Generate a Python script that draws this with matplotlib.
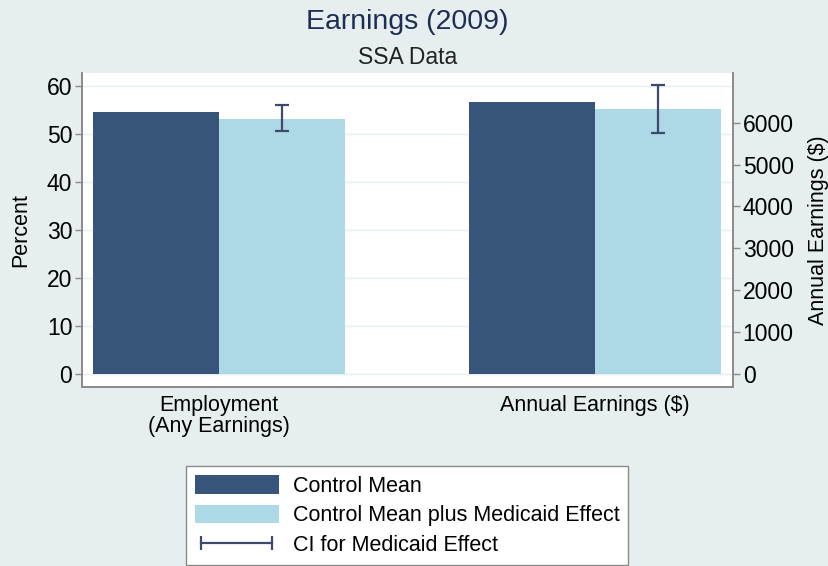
import matplotlib
matplotlib.use("Agg")
import matplotlib.pyplot as plt
from matplotlib.patches import Patch
from matplotlib.lines import Line2D

plt.rcParams['font.family'] = ['Liberation Sans', 'DejaVu Sans']

# Data
categories = ["Employment\n(Any Earnings)", "Annual Earnings ($)"]
control_mean = [54.7, 6500]
medicaid_mean = [53.1, 6320]
ci_low = [50.7, 5760]
ci_high = [56.1, 6900]

dark = '#37557A'
light = '#ADD8E6'
ci_color = '#3E4A6C'
bg = '#E6EEF0'
spine_col = '#8A8A8A'

fig = plt.figure(figsize=(8.29, 5.66), dpi=100, facecolor=bg)
ax = fig.add_axes([82 / 829, 1 - 387 / 566, (733 - 82) / 829, (387 - 73) / 566])
ax.set_facecolor('white')
ax2 = ax.twinx()

w = 0.335
x = [0, 1]

# employment on left axis (percent), earnings on right axis (dollars)
axes_for = [ax, ax2]
for i, a in enumerate(axes_for):
    a.bar(x[i] - w / 2, control_mean[i], width=w, color=dark, zorder=3)
    a.bar(x[i] + w / 2, medicaid_mean[i], width=w, color=light, zorder=3)
    mid = (ci_low[i] + ci_high[i]) / 2
    half = (ci_high[i] - ci_low[i]) / 2
    a.errorbar(x[i] + w / 2, mid, yerr=half, fmt='none', ecolor=ci_color,
               elinewidth=1.6, capsize=5, capthick=1.6, zorder=4)

ax.set_xlim(-0.364, 1.367)
ax.set_ylim(-2.8, 62.8)
ax2.set_ylim(-2.8 * 114.5, 62.8 * 114.5)

ax.set_yticks(range(0, 61, 10))
ax2.set_yticks(range(0, 6001, 1000))
ax.set_xticks(x)
ax.set_xticklabels(categories, fontsize=15.5, linespacing=0.95)
ax.tick_params(axis='x', length=0, pad=6)
ax.tick_params(axis='y', labelsize=16.5, length=5, width=1, color=spine_col, pad=2)
ax2.tick_params(axis='y', labelsize=16.5, length=5, width=1, color=spine_col, pad=2)

ax.yaxis.grid(True, color='#E8EFF1', lw=1)
ax.set_axisbelow(True)

for a in (ax, ax2):
    a.spines['top'].set_visible(False)
    for s in ('left', 'right', 'bottom'):
        a.spines[s].set_color(spine_col)
        a.spines[s].set_linewidth(1.2)

ax.set_ylabel("Percent", fontsize=15.5, labelpad=11)
ax2.set_ylabel("Annual Earnings ($)", fontsize=15.5, labelpad=10)

fig.text(407.5 / 829, 1 - 22 / 566, "Earnings (2009)", ha='center', va='center',
         fontsize=20.5, color='#1E2D53')
fig.text(407.5 / 829, 1 - 57 / 566, "SSA Data", ha='center', va='center',
         fontsize=16.5, color='#222222')

handles = [
    Patch(facecolor=dark, edgecolor='none'),
    Patch(facecolor=light, edgecolor='none'),
    Line2D([0, 1], [0, 0], color=ci_color, lw=1.6, marker='|', markersize=10,
           markeredgewidth=1.6),
]
labels = ["Control Mean", "Control Mean plus Medicaid Effect", "CI for Medicaid Effect"]
leg = fig.legend(handles, labels, loc='lower center', bbox_to_anchor=(407 / 829, 0.0),
                 fontsize=15.5, frameon=True, fancybox=False, framealpha=1,
                 edgecolor='#8A8A8A', facecolor='white', numpoints=2,
                 handlelength=3.9, handleheight=0.95, handletextpad=0.65,
                 labelspacing=0.36, borderpad=0.42, borderaxespad=0.05)
leg.get_frame().set_linewidth(1)

fig.savefig("out.png", dpi=100, facecolor=bg)
